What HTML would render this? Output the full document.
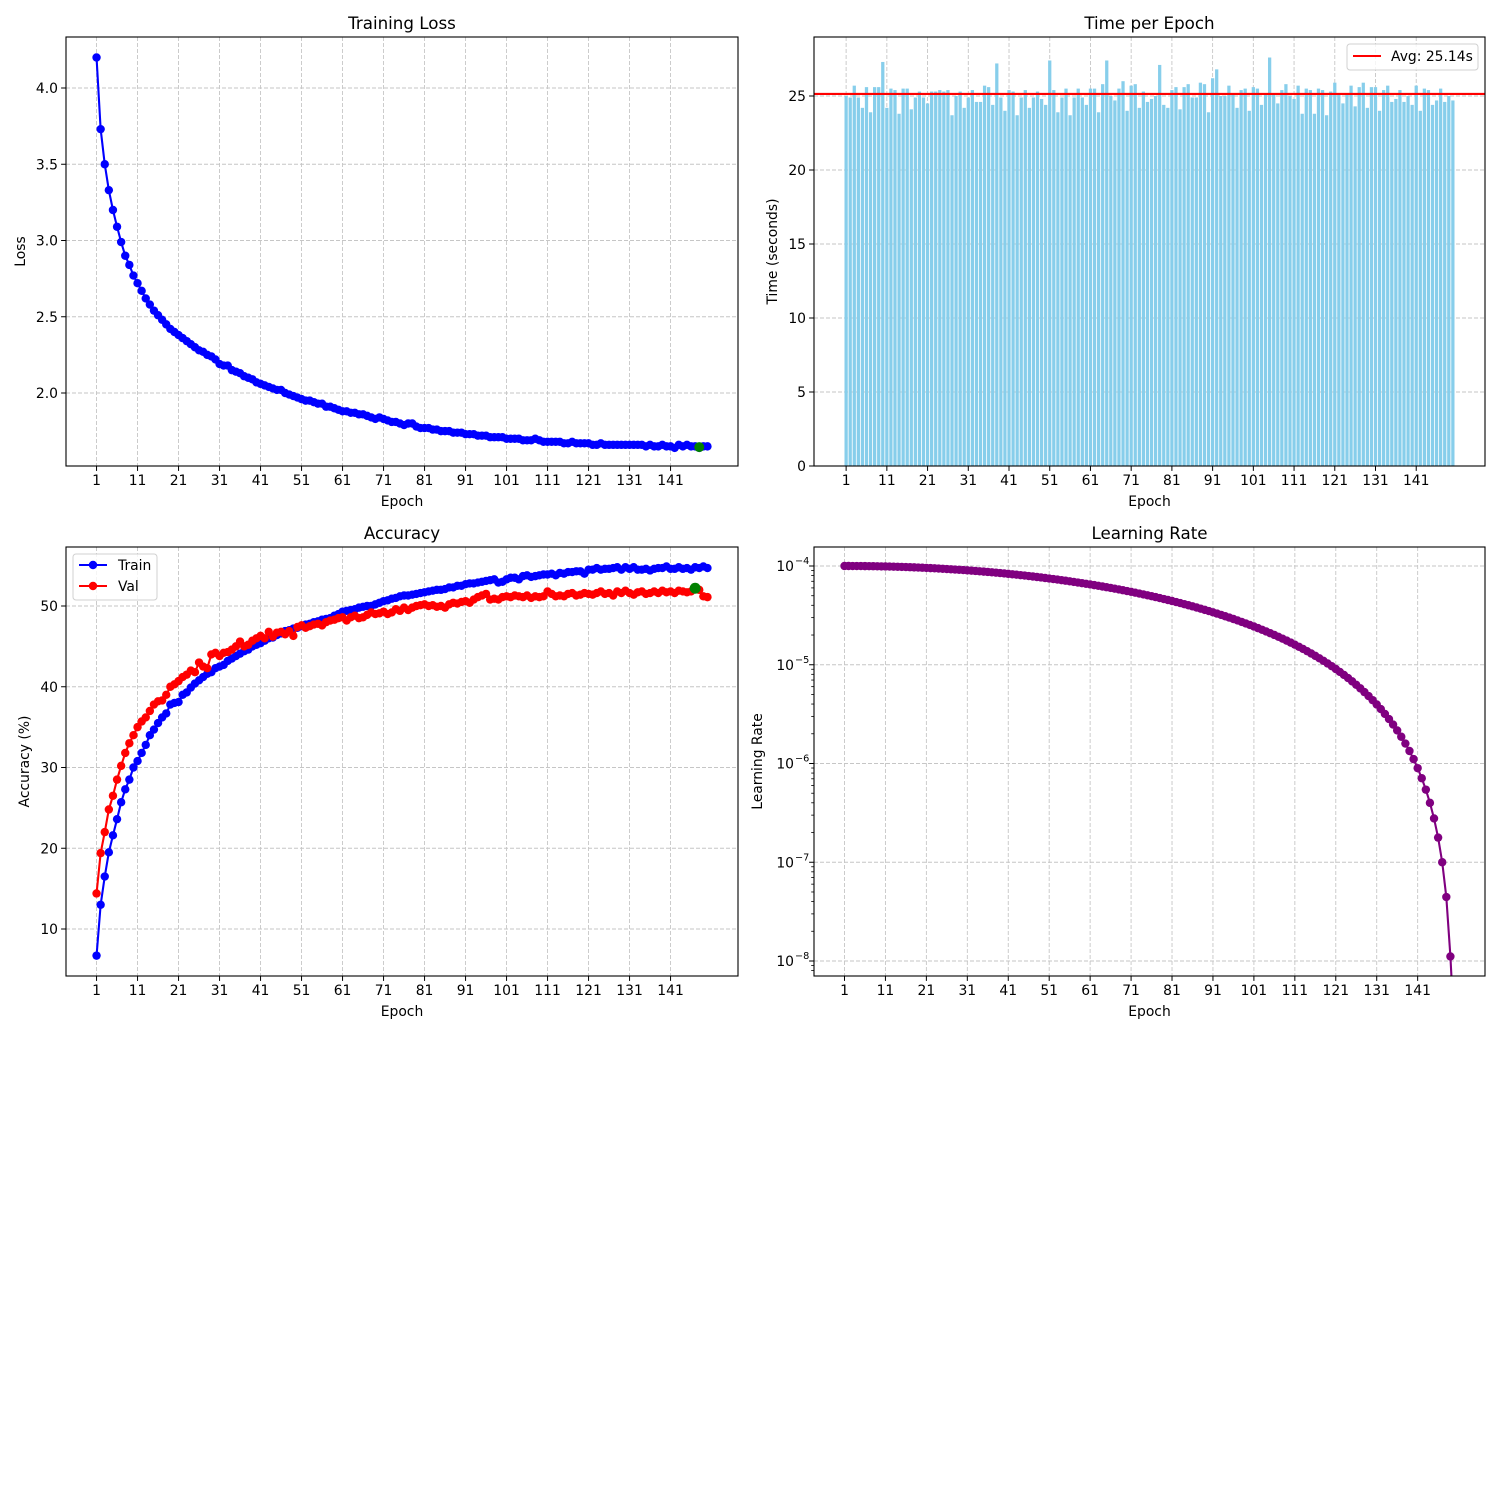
<!DOCTYPE html>
<html><head><meta charset="utf-8"><style>
html,body{margin:0;padding:0;background:#fff;overflow:hidden;width:1500px;height:1500px;}
svg{display:block;font-family:"DejaVu Sans","Liberation Sans",sans-serif;}
</style></head><body>
<svg id="fig" width="1500" height="1500" viewBox="0 0 1500 1500" xmlns="http://www.w3.org/2000/svg"></svg>
<script>
const lossValues=[4.20,3.73,3.50,3.33,3.20,3.09,2.99,2.90,2.84,2.77,
2.72,2.67,2.62,2.58,2.54,2.51,2.48,2.45,2.42,2.40,
2.38,2.36,2.34,2.32,2.30,2.28,2.27,2.25,2.24,2.22,
2.19,2.18,2.18,2.15,2.14,2.13,2.11,2.10,2.09,2.07,
2.06,2.05,2.04,2.03,2.02,2.02,2.00,1.99,1.98,1.97,
1.96,1.95,1.95,1.94,1.93,1.93,1.91,1.91,1.90,1.89,
1.88,1.88,1.87,1.87,1.86,1.86,1.85,1.84,1.83,1.84,
1.83,1.82,1.81,1.81,1.80,1.79,1.80,1.80,1.78,1.77,
1.77,1.77,1.76,1.76,1.75,1.75,1.75,1.74,1.74,1.74,
1.73,1.73,1.73,1.72,1.72,1.72,1.71,1.71,1.71,1.71,
1.70,1.70,1.70,1.70,1.69,1.69,1.69,1.70,1.69,1.68,
1.68,1.68,1.68,1.68,1.67,1.67,1.68,1.67,1.67,1.67,
1.67,1.66,1.66,1.67,1.66,1.66,1.66,1.66,1.66,1.66,
1.66,1.66,1.66,1.66,1.65,1.66,1.65,1.65,1.66,1.65,
1.65,1.64,1.66,1.65,1.66,1.65,1.65,1.64,1.65,1.65];
const bestLossEpoch=148;
const bestLossValue=1.645;
const epochTimes=[25.0,24.9,25.7,24.9,24.2,25.6,23.9,25.6,25.6,27.3,
24.2,25.5,25.4,23.8,25.5,25.5,24.1,24.9,25.3,24.9,
24.5,25.3,25.3,25.4,25.3,25.4,23.7,25.0,25.3,24.2,
24.9,25.4,24.6,24.6,25.7,25.6,24.4,27.2,24.9,24.0,
25.4,25.3,23.7,24.9,25.4,24.2,24.9,25.3,24.8,24.4,
27.4,25.4,23.9,24.9,25.5,23.7,24.9,25.5,24.9,24.4,
25.5,25.5,23.9,25.8,27.4,25.0,24.7,25.5,26.0,24.0,
25.7,25.8,24.2,25.3,24.6,24.8,25.0,27.1,24.4,24.2,
25.4,25.6,24.1,25.6,25.8,24.9,24.9,25.9,25.8,23.9,
26.2,26.8,25.0,25.0,25.7,25.2,24.2,25.4,25.5,24.0,
25.6,25.5,24.4,25.2,27.6,25.1,24.5,25.4,25.8,25.0,
24.8,25.7,23.8,25.5,25.4,23.8,25.5,25.4,23.7,25.3,
25.9,25.2,24.5,25.1,25.7,24.3,25.6,25.9,24.2,25.6,
25.6,24.0,25.4,25.7,24.6,24.8,25.4,24.6,25.0,24.4,
25.7,24.0,25.5,25.4,24.4,24.7,25.5,24.6,25.0,24.7];
const avgTime=25.14;
const trainAcc=[6.7,13.0,16.5,19.5,21.6,23.6,25.7,27.3,28.5,30.0,
30.8,31.8,32.8,34.0,34.7,35.5,36.2,36.7,37.8,38.0,
38.1,39.0,39.3,39.9,40.4,40.8,41.2,41.6,41.8,42.3,
42.5,42.7,43.2,43.5,43.8,44.1,44.4,44.6,45.0,45.2,
45.4,45.7,46.0,46.1,46.4,46.6,46.9,47.0,47.2,47.3,
47.5,47.7,47.8,48.0,48.1,48.3,48.4,48.5,48.8,49.0,
49.3,49.4,49.5,49.6,49.8,49.9,50.0,50.0,50.2,50.4,
50.6,50.7,50.9,51.0,51.2,51.3,51.3,51.4,51.5,51.6,
51.7,51.8,51.9,52.0,52.0,52.1,52.3,52.3,52.5,52.5,
52.7,52.8,52.8,52.9,53.0,53.1,53.2,53.3,52.9,53.0,
53.3,53.5,53.5,53.3,53.7,53.8,53.6,53.7,53.8,53.9,
53.9,54.0,53.8,54.1,54.0,54.2,54.2,54.3,54.3,54.0,
54.5,54.5,54.7,54.5,54.6,54.6,54.7,54.8,
54.5,54.8,54.6,54.8,54.5,54.5,54.6,54.4,54.6,54.7,
54.7,54.9,54.6,54.6,54.8,54.6,54.7,54.5,54.8,54.7,
54.9,54.7];
const valAcc=[14.4,19.4,22.0,24.8,26.5,28.5,30.2,31.8,33.0,34.0,
35.0,35.7,36.2,37.0,37.8,38.2,38.3,39.0,40.0,40.3,
40.7,41.2,41.5,42.0,41.8,43.0,42.5,42.3,44.0,44.2,
43.8,44.2,44.3,44.6,45.0,45.6,45.0,45.2,45.7,46.0,
46.3,46.0,46.8,46.2,46.7,46.8,46.5,46.9,46.3,47.4,
47.6,47.3,47.5,47.7,47.8,47.6,48.0,48.2,48.3,48.5,
48.6,48.2,48.6,48.8,48.5,48.6,48.9,49.2,49.0,49.1,
49.3,49.0,49.2,49.6,49.4,49.8,49.5,49.8,50.0,50.1,
50.2,50.0,50.1,49.9,50.0,49.8,50.2,50.4,50.3,50.5,
50.6,50.4,50.8,51.1,51.3,51.5,50.8,50.9,50.8,51.1,
51.2,51.1,51.3,51.2,51.1,51.3,51.0,51.2,51.1,51.2,
51.8,51.5,51.2,51.3,51.2,51.5,51.6,51.3,51.4,51.6,
51.5,51.4,51.6,51.8,51.5,51.6,51.3,51.8,
51.6,51.9,51.6,51.4,51.7,51.8,51.5,51.6,51.8,51.6,
51.9,51.7,51.8,51.6,51.9,51.8,51.7,51.8,52.2,52.0,
51.2,51.1];
const bestValEpoch=147;
const bestValAcc=52.2;
const lrValuesE4=[1.0,0.9999,0.9996,0.9990,0.9982,0.9972,0.9960,0.9946,0.9929,0.9910,
0.9890,0.9867,0.9841,0.9813,0.9784,0.9752,0.9718,0.9682,0.9644,0.9604,
0.9562,0.9518,0.9472,0.9423,0.9373,0.9321,0.9267,0.9211,0.9154,0.9094,
0.9033,0.8970,0.8905,0.8838,0.8770,0.8700,0.8628,0.8555,0.8480,0.8403,
0.8325,0.8245,0.8163,0.8081,0.7998,0.7914,0.7828,0.7739,0.7651,0.7560,
0.7469,0.7377,0.7284,0.7189,0.7094,0.6998,0.6901,0.6803,0.6704,0.6605,
0.6505,0.6404,0.6302,0.6200,0.6097,0.5995,0.5891,0.5787,0.5683,0.5578,
0.5474,0.5369,0.5263,0.5158,0.5052,0.4948,0.4842,0.4737,0.4631,0.4526,
0.4422,0.4317,0.4213,0.4109,0.4005,0.3903,0.3800,0.3698,0.3596,0.3495,
0.3395,0.3296,0.3197,0.3099,0.3002,0.2906,0.2811,0.2716,0.2623,0.2531,
0.2440,0.2349,0.2261,0.2172,0.2086,0.2002,0.1919,0.1837,0.1755,0.16749,
0.15968,0.15204,0.14454,0.13720,0.13003,0.12302,0.11618,0.10952,0.10303,0.09671,
0.09057,0.08462,0.07885,0.07327,0.06787,0.06267,0.05766,0.05284,0.04822,0.043802,
0.039585,0.035581,0.031766,0.028180,0.024791,0.021624,0.018662,0.015919,0.013387,0.011071,
0.008974,0.007095,0.005435,0.003995,0.002776,0.001777,0.0009998,0.0004444,0.0001111,0];
const xTickLabels=[1,11,21,31,41,51,61,71,81,91,101,111,121,131,141];
const lossTicks=[2.0,2.5,3.0,3.5,4.0];
const timeTicks=[0,5,10,15,20,25];
const accTicks=[10,20,30,40,50];
const lrTickExps=[-8,-7,-6,-5,-4];

const NS="http://www.w3.org/2000/svg";
const fig=document.getElementById('fig');
function el(tag,attrs,parent){const e=document.createElementNS(NS,tag);for(const k in attrs)e.setAttribute(k,attrs[k]);(parent||fig).appendChild(e);return e;}
function txt(s,attrs,parent){const t=el('text',attrs,parent);t.textContent=s;return t;}
const GRID='#c6c6c6';

function makeAxes(name,L,T,R,B,xmin,xmax,yfn){
  const g=el('g',{});
  
  
  const cid='clip-'+name;
  const cp=el('clipPath',{id:cid},g);el('rect',{x:L,y:T,width:R-L,height:B-T},cp);
  const xs=v=>L+(v-xmin)/(xmax-xmin)*(R-L);
  return {g,L,T,R,B,xs,ys:yfn,cid};
}
function xAxis(ax){
  for(const t of xTickLabels){
    const x=ax.xs(t);
    el('line',{x1:x,y1:ax.T,x2:x,y2:ax.B,stroke:GRID,'stroke-width':0.9,'stroke-dasharray':'4,2'},ax.g);
    el('line',{x1:x,y1:ax.B,x2:x,y2:ax.B+4.9,stroke:'#000','stroke-width':1},ax.g);
    const t2=txt(String(t),{x:x,y:ax.B+19,'font-size':13.9,'text-anchor':'middle',fill:'#000'},ax.g);
    
    
  }
  const xl=txt('Epoch',{x:(ax.L+ax.R)/2,y:ax.B+40,'font-size':13.9,'text-anchor':'middle'},ax.g);
  
  
}
function yAxis(ax,ticks,fmt,label,lx){
  for(const t of ticks){
    const y=ax.ys(t);
    el('line',{x1:ax.L,y1:y,x2:ax.R,y2:y,stroke:GRID,'stroke-width':0.9,'stroke-dasharray':'4,2'},ax.g);
    el('line',{x1:ax.L-4.9,y1:y,x2:ax.L,y2:y,stroke:'#000','stroke-width':1},ax.g);
    const tl=txt(fmt(t),{x:ax.L-8,y:y+5,'font-size':13.9,'text-anchor':'end'},ax.g);
    
    
  }
  const cy=(ax.T+ax.B)/2;
  const yl=txt(label,{x:lx,y:cy,'font-size':13.9,'text-anchor':'middle',transform:`rotate(-90 ${lx} ${cy})`},ax.g);
  
  
}
function frame(ax,title){
  el('rect',{x:ax.L,y:ax.T,width:ax.R-ax.L,height:ax.B-ax.T,fill:'none',stroke:'#000','stroke-width':1.1},ax.g);
  const t=txt(title,{x:(ax.L+ax.R)/2,y:ax.T-8,'font-size':16.7,'text-anchor':'middle'},ax.g);
  
  
}
function series(ax,vals,color,name,ysf,skipNonPos){
  const sg=el('g',{'clip-path':`url(#${ax.cid})`},ax.g);
  
  
  const pts=vals.map((v,i)=>[ax.xs(i+1),ysf(v)]);
  el('polyline',{points:pts.map(p=>p.join(',')).join(' '),fill:'none',stroke:color,'stroke-width':2.1,'stroke-linejoin':'round'},sg);
  vals.forEach((v,i)=>{ if(skipNonPos && !(v>0)) return;
    const c=el('circle',{cx:pts[i][0],cy:pts[i][1],r:4.2,fill:color},sg);
    
    
  });
}

// Training loss
(function(){
  const N=lossValues.length,m=0.05*(N-1);
  const ax=makeAxes('training-loss-chart',66,37,738,466,1-m,N+m,v=>393+(2.0-v)/0.5*76.25);
  xAxis(ax);yAxis(ax,lossTicks,v=>v.toFixed(1),'Loss',25);
  series(ax,lossValues,'#0000ff','loss-line',ax.ys,false);
  const b=el('circle',{cx:ax.xs(bestLossEpoch),cy:ax.ys(bestLossValue),r:5,fill:'#008000'},ax.g);
  
  
  frame(ax,'Training Loss');
})();

// Time per epoch
(function(){
  const N=epochTimes.length,span=N-1+0.8,m=0.05*span;
  const ax=makeAxes('time-per-epoch-chart',814,37,1485,466,0.6-m,N+0.4+m,v=>466-v/25*370);
  xAxis(ax);yAxis(ax,timeTicks,v=>String(v),'Time (seconds)',777);
  const bw=ax.xs(1.8)-ax.xs(1);
  epochTimes.forEach((v,i)=>{
    const x=ax.xs(i+1)-bw/2,y=ax.ys(v);
    const r=el('rect',{x:x,y:y,width:bw,height:ax.ys(0)-y,fill:'#87ceeb'},ax.g);
    
    
  });
  const ay=ax.ys(avgTime);
  const al=el('line',{x1:ax.L,y1:ay,x2:ax.R,y2:ay,stroke:'#ff0000','stroke-width':2.1},ax.g);
  
  
  const lg=el('g',{},ax.g);
  
  
  el('rect',{x:1347,y:44,width:131,height:26,rx:3,fill:'#fff','fill-opacity':0.8,stroke:'#d0d0d0'},lg);
  el('line',{x1:1353,y1:56,x2:1381,y2:56,stroke:'#ff0000','stroke-width':2.1},lg);
  txt('Avg: '+avgTime.toFixed(2)+'s',{x:1391,y:61,'font-size':13.9},lg);
  frame(ax,'Time per Epoch');
})();

// Accuracy
(function(){
  const N=trainAcc.length,m=0.05*(N-1);
  const ax=makeAxes('accuracy-chart',66,547,738,976,1-m,N+m,v=>929-(v-10)/10*80.75);
  xAxis(ax);yAxis(ax,accTicks,v=>String(v),'Accuracy (%)',29);
  series(ax,trainAcc,'#0000ff','train-accuracy-line',ax.ys,false);
  series(ax,valAcc,'#ff0000','val-accuracy-line',ax.ys,false);
  const b=el('circle',{cx:ax.xs(bestValEpoch),cy:ax.ys(bestValAcc),r:5.5,fill:'#008000'},ax.g);
  
  
  const lg=el('g',{},ax.g);
  
  
  el('rect',{x:73,y:554,width:84,height:46,rx:3,fill:'#fff','fill-opacity':0.8,stroke:'#d0d0d0'},lg);
  el('line',{x1:79,y1:565,x2:107,y2:565,stroke:'#0000ff','stroke-width':2.1},lg);
  el('circle',{cx:93,cy:565,r:4.2,fill:'#0000ff'},lg);
  txt('Train',{x:118,y:570,'font-size':13.9},lg);
  el('line',{x1:79,y1:586,x2:107,y2:586,stroke:'#ff0000','stroke-width':2.1},lg);
  el('circle',{cx:93,cy:586,r:4.2,fill:'#ff0000'},lg);
  txt('Val',{x:118,y:591,'font-size':13.9},lg);
  frame(ax,'Accuracy');
})();

// Learning rate
(function(){
  const N=lrValuesE4.length,m=0.05*(N-1);
  const lys=v=>{const lv=v*1e-4; if(!(lv>0)) return 1036; return 566-(Math.log10(lv)+4)*98.75;};
  const ax=makeAxes('learning-rate-chart',814,547,1485,976,1-m,N+m,lys);
  xAxis(ax);
  for(const e of lrTickExps){
    const y=566-(e+4)*98.75;
    el('line',{x1:ax.L,y1:y,x2:ax.R,y2:y,stroke:GRID,'stroke-width':0.9,'stroke-dasharray':'4,2'},ax.g);
    el('line',{x1:ax.L-4.9,y1:y,x2:ax.L,y2:y,stroke:'#000','stroke-width':1},ax.g);
    const t=txt('10',{x:ax.L-20,y:y+5,'font-size':13.9,'text-anchor':'end'},ax.g);
    
    
    txt('\u2212'+Math.abs(e),{x:ax.L-19,y:y-2,'font-size':9.7,'text-anchor':'start'},ax.g);
  }
  for(let d=-9;d<=-4;d++){
    const base=566-(d+4)*98.75;
    for(let k=2;k<=9;k++){
      const yy=base-Math.log10(k)*98.75;
      if(yy>ax.T&&yy<ax.B) el('line',{x1:ax.L-2.8,y1:yy,x2:ax.L,y2:yy,stroke:'#000','stroke-width':0.8},ax.g);
    }
  }
  const cy=(ax.T+ax.B)/2;
  const yl=txt('Learning Rate',{x:762,y:cy,'font-size':13.9,'text-anchor':'middle',transform:`rotate(-90 762 ${cy})`},ax.g);
  
  
  series(ax,lrValuesE4,'#800080','learning-rate-line',lys,true);
  frame(ax,'Learning Rate');
})();
</script>
</body></html>
